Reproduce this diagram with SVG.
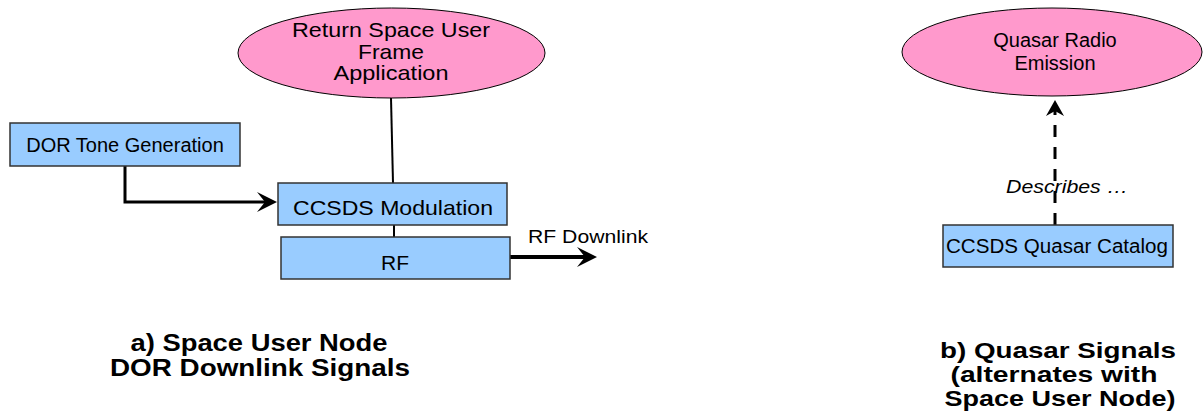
<svg xmlns="http://www.w3.org/2000/svg" width="1204" height="417" viewBox="0 0 1204 417">
<style>
  .box { fill: #99CCFF; stroke: #333333; stroke-width: 1.5; }
  .ell { fill: #FF99CC; stroke: #000000; stroke-width: 1; }
  .t { font-family: "Liberation Sans", Arial, sans-serif; fill: #000; text-anchor: middle; }
  .cap { font-family: "Liberation Sans", Arial, sans-serif; font-weight: bold; fill: #000; text-anchor: middle; }
  .ln { fill: none; stroke: #000; }
</style>
<defs>
  <marker id="arr" viewBox="-20 -10 20 20" refX="-12" refY="0" markerWidth="20" markerHeight="20" markerUnits="userSpaceOnUse" orient="auto">
    <path d="M0,0 L-20,-10 L-12,0 L-20,10 Z" fill="#000"/>
  </marker>
  <marker id="arrs" viewBox="-16 -9 16 18" refX="-11" refY="0" markerWidth="16" markerHeight="18" markerUnits="userSpaceOnUse" orient="auto">
    <path d="M0,0 L-16,-9 L-11,0 L-16,9 Z" fill="#000"/>
  </marker>
</defs>
<rect width="1204" height="417" fill="#fff"/>

<g id="connectors">
  <line class="ln" x1="391" y1="98" x2="393" y2="183" stroke-width="2"/>
  <line class="ln" x1="394" y1="225" x2="394" y2="237" stroke-width="2"/>
  <path class="ln" d="M125,166 L125,202 L265,202" stroke-width="3" marker-end="url(#arr)"/>
  <line class="ln" x1="510" y1="257" x2="585" y2="257" stroke-width="4" marker-end="url(#arr)"/>
  <line class="ln" x1="1055" y1="225" x2="1055" y2="111" stroke-width="3" stroke-dasharray="12 10" marker-end="url(#arrs)"/>
  <text x="528" y="243" font-family="Liberation Sans, Arial, sans-serif" font-size="19" textLength="120" lengthAdjust="spacingAndGlyphs">RF Downlink</text>
  <text x="1006" y="193" font-family="Liberation Sans, Arial, sans-serif" font-size="19" font-style="italic" textLength="122" lengthAdjust="spacingAndGlyphs">Describes …</text>
</g>

<g id="node-return-app">
  <ellipse class="ell" cx="391.5" cy="53" rx="153.5" ry="45"/>
  <text class="t" x="391" y="37" font-size="21" textLength="198" lengthAdjust="spacingAndGlyphs">Return Space User</text>
  <text class="t" x="391" y="59" font-size="21" textLength="66" lengthAdjust="spacingAndGlyphs">Frame</text>
  <text class="t" x="391" y="80" font-size="21" textLength="115" lengthAdjust="spacingAndGlyphs">Application</text>
</g>

<g id="node-dor-tone">
  <rect class="box" x="10" y="123" width="230" height="43"/>
  <text class="t" x="125" y="152" font-size="20">DOR Tone Generation</text>
</g>

<g id="node-ccsds-mod">
  <rect class="box" x="278" y="183" width="229" height="42"/>
  <text class="t" x="393" y="215" font-size="21" textLength="200" lengthAdjust="spacingAndGlyphs">CCSDS Modulation</text>
</g>

<g id="node-rf">
  <rect class="box" x="281" y="237" width="229" height="42"/>
  <text class="t" x="395" y="270" font-size="21">RF</text>
</g>

<g id="node-quasar-emission">
  <ellipse class="ell" cx="1052" cy="52" rx="150" ry="44"/>
  <text class="t" x="1055" y="47" font-size="20">Quasar Radio</text>
  <text class="t" x="1055" y="70" font-size="20">Emission</text>
</g>

<g id="node-quasar-catalog">
  <rect class="box" x="943" y="225" width="230" height="42"/>
  <text class="t" x="1057" y="253" font-size="20" textLength="222" lengthAdjust="spacingAndGlyphs">CCSDS Quasar Catalog</text>
</g>

<g id="caption-a">
  <text class="cap" x="259" y="351" font-size="23" textLength="257" lengthAdjust="spacingAndGlyphs">a) Space User Node</text>
  <text class="cap" x="260" y="376" font-size="23" textLength="300" lengthAdjust="spacingAndGlyphs">DOR Downlink Signals</text>
</g>

<g id="caption-b">
  <text class="cap" x="1058" y="358" font-size="22" textLength="236" lengthAdjust="spacingAndGlyphs">b) Quasar Signals</text>
  <text class="cap" x="1054" y="382" font-size="22" textLength="207" lengthAdjust="spacingAndGlyphs">(alternates with</text>
  <text class="cap" x="1060" y="406" font-size="22" textLength="231" lengthAdjust="spacingAndGlyphs">Space User Node)</text>
</g>
</svg>
